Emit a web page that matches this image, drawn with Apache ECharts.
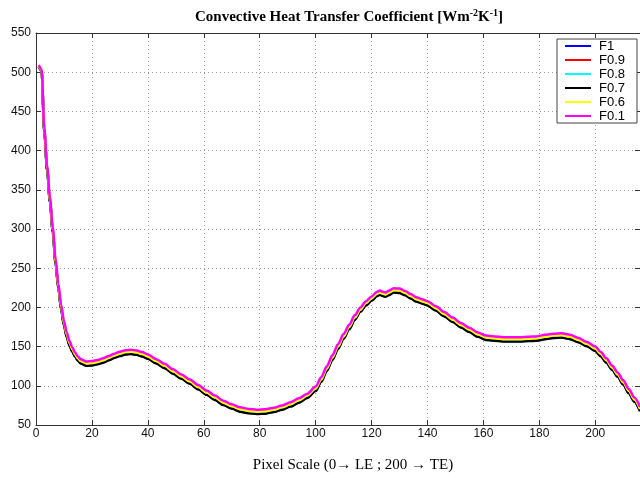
<!DOCTYPE html>
<html>
<head>
<meta charset="utf-8">
<script src="https://cdn.jsdelivr.net/npm/echarts@6/dist/echarts.min.js"></script>
<style>
  html, body { margin: 0; padding: 0; background: #fff; }
  #chart { width: 640px; height: 478px; }
</style>
</head>
<body>
<div id="chart"></div>
<script>
// Pixel positions along the chord (0 = leading edge, 200 = trailing edge)
const pixelPos = [1,2,3,4,5,6,7,8,9,10,11,12,13,14,15,16,
  18,20,22,24,26,28,30,32,34,36,38,40,
  43,46,49,52,55,58,61,64,67,70,73,76,79,82,85,88,91,94,97,100,
  102,104,106,108,110,112,114,116,118,120,122,
  123,124,125,126,
  128,130,132,134,136,138,140,
  143,146,149,152,155,158,161,164,167,170,173,176,179,182,185,188,191,194,197,200,
  202,204,206,208,210,212,214,216];

// Convective heat transfer coefficient [W m^-2 K^-1] for each case
const hF1 = [507,502,423,375,335,297,257,225,198,178,163,152,144,137.5,132.5,129,126,126.5,128,130,133,136,138.5,140.5,141,140,138,135,129,123,116,109.5,103,96,89,82.5,76,71.5,67.5,65.5,64.5,65,67,70,74,79,85,94,106,120,134,148,161,173,185,195,203,209,215,216.5,215,214,216,219.5,219,216,212,208,205.5,203,196.5,189,182,175,169,163,159,158,157,157,157,157.5,158,160,161.5,162,160,156,151,145,138,130,121,112,102,91,80,68];
const hF09 = [507.5,502.5,423.5,375.5,335.5,297.5,257.5,225.5,198.5,178.5,163.5,152.5,144.5,138,133,129.5,126.5,127,128.5,130.5,133.5,136.5,139,141,141.5,140.5,138.5,135.5,129.5,123.5,116.5,110,103.5,96.5,89.5,83,76.5,72,68,66,65,65.5,67.5,70.5,74.5,79.5,85.5,94.5,106.5,120.5,134.5,148.5,161.5,173.5,185.5,195.5,203.5,209.5,215.5,217,215.5,214.5,216.5,220,219.5,216.5,212.5,208.5,206,203.5,197,189.5,182.5,175.5,169.5,163.5,159.5,158.5,157.5,157.5,157.5,158,158.5,160.5,162,162.5,160.5,156.5,151.5,145.5,138.5,130.5,121.5,112.5,102.5,91.5,80.5,68.5];
const hF08 = [507,502,424,376,335,297,257,225,198,178,163,152,144,137.5,132.5,129.5,126,126.5,128.5,130.5,133,136,138.5,140.5,141,140,138,135,129,123,116.5,109.5,103,96,89,82.5,76,71.5,67.5,65.5,64.5,65,67,70,74,79,85,94,106,120,134,148,161,173,185,195,203,209,215,216.5,215,214,216,219.5,219,216,212,208,205.5,203,196.5,189,182,175,169,163,159,158,157,157,157,157.5,158,160,161.5,162,160,156,151,145,138,130,121,112,102,91,80,68];
const hF07 = [507,502,423,374,334,296,256,224,197,177,162,151,143.5,137,132,128.5,125.5,126,127.5,129.5,132.5,135.5,138,140,140.5,139.5,137.5,134.5,128.5,122.5,115.5,109,102.5,95.5,88.5,82,75.5,71,67,65,64,64.5,66.5,69.5,73.5,78.5,84.5,93.5,105,119,133,147,160,172,184,194.5,202.5,208.5,214.5,216,214.5,213.5,215.5,219,218.5,215.5,211.5,207.5,205,202.5,196,188.5,181.5,174.5,168.5,162.5,158.5,157.5,156.5,156.5,156.5,157,157.5,159.5,161,161.5,159.5,155.5,150.5,144.5,137.5,129.5,120.5,111.5,101.5,90.5,79.5,67.5];
const hF06 = [508,503,426,378,337,299,259,227,200.5,180.5,165.5,154.5,146.5,140,135,131.5,128.5,129,130.5,132.5,135.5,138.5,141,143,143.5,142.5,140.5,137.5,131.5,125.5,118.5,112,105.5,98.5,91.5,85,78.5,74,70,68,67,67.5,69.5,72.5,76.5,81.5,87.5,96.5,108,122,136,150,163,175,187,197,205.5,211.5,217.5,219,217.5,216.5,218.5,222,221.5,218.5,214.5,210.5,208,205.5,199,191.5,184.5,177.5,171.5,165.5,161.5,160.5,159.5,159.5,159.5,160,160.5,162.5,164,164.5,162.5,158.5,153.5,147.5,140.5,132.5,123.5,114.5,104.5,93.5,82.5,70.5];
const hF01 = [509,504,428,380,340,302,262,230,203,183,168,157,149,142.5,137.5,134,131,131.5,133,135,138,141,143.5,145.5,146,145,143,140,134,128,121,114.5,108,101,94,87.5,81,76.5,72.5,70.5,69.5,70,72,75,79,84,90,99,111,125,139,153,166,178,190,200,208,214,220,221.5,220,219,221,224.5,224,221,217,213,210.5,208,201.5,194,187,180,174,168,164,163,162,162,162,162.5,163,165,166.5,167,165,161,156,150,143,135,126,117,107,96,85,73];

const seriesNames = ['F1', 'F0.9', 'F0.8', 'F0.7', 'F0.6', 'F0.1'];
const seriesValues = [hF1, hF09, hF08, hF07, hF06, hF01];
const seriesColors = ['#0000ff', '#ff0000', '#00ffff', '#000000', '#ffff00', '#ff00ff'];

const xMin = 0, xMax = 216, xStep = 20;
const yMin = 50, yMax = 550, yStep = 50;

const sansFont = '"Liberation Sans", Arial, sans-serif';
const serifFont = '"Liberation Serif", "Times New Roman", serif';
const axisColor = '#333';

const chart = echarts.init(document.getElementById('chart'), null, { renderer: 'canvas' });

// Box frame: top and right axes carry only the line and inward ticks
const frameAxis = {
  axisLine: { show: true, onZero: false, lineStyle: { color: axisColor, width: 1 } },
  axisTick: { show: true, inside: true, length: 5, lineStyle: { color: axisColor } },
  axisLabel: { show: false },
  splitLine: { show: false }
};

chart.setOption({
  backgroundColor: '#fff',
  animation: false,
  title: {
    text: '{a|Convective Heat Transfer Coefficient [Wm}{s|-2}{a|K}{s|-1}{a|]}',
    left: 190,
    top: 3,
    textStyle: {
      rich: {
        a: { fontFamily: serifFont, fontWeight: 'bold', fontSize: 15, color: '#000', lineHeight: 18 },
        s: { fontFamily: serifFont, fontWeight: 'bold', fontSize: 10, color: '#000', verticalAlign: 'top', lineHeight: 18 }
      }
    }
  },
  legend: {
    orient: 'vertical',
    left: 557,
    top: 39,
    data: seriesNames,
    icon: 'rect',
    itemWidth: 26,
    itemHeight: 2,
    itemGap: 0,
    padding: [0, 12, 0, 8],
    backgroundColor: '#fff',
    borderColor: '#444',
    borderWidth: 1,
    borderRadius: 0,
    textStyle: { fontFamily: sansFont, fontSize: 13, color: '#000', lineHeight: 14, padding: [0, 0, 0, 3] }
  },
  grid: { left: 36, right: -1, top: 33, bottom: 49, containLabel: false },
  xAxis: [
    {
      type: 'value', position: 'bottom',
      min: xMin, max: xMax, interval: xStep,
      name: 'Pixel Scale (0\u2192 LE ; 200 \u2192 TE)',
      nameLocation: 'middle',
      nameGap: 33,
      nameTextStyle: { fontFamily: serifFont, fontSize: 15, color: '#000', padding: [0, 0, 0, 30] },
      axisLine: { show: true, onZero: false, lineStyle: { color: axisColor, width: 1 } },
      axisTick: { show: true, inside: true, length: 5, lineStyle: { color: axisColor } },
      axisLabel: { fontFamily: sansFont, fontSize: 12, color: '#111', margin: 3, showMaxLabel: false },
      splitLine: { show: true, lineStyle: { color: '#9a9a9a', width: 1, type: [1, 3] } }
    },
    Object.assign({}, frameAxis, { type: 'value', position: 'top', min: xMin, max: xMax, interval: xStep })
  ],
  yAxis: [
    {
      type: 'value', position: 'left',
      min: yMin, max: yMax, interval: yStep,
      axisLine: { show: true, onZero: false, lineStyle: { color: axisColor, width: 1 } },
      axisTick: { show: true, inside: true, length: 5, lineStyle: { color: axisColor } },
      axisLabel: { fontFamily: sansFont, fontSize: 12, color: '#111', margin: 5 },
      splitLine: { show: true, lineStyle: { color: '#9a9a9a', width: 1, type: [1, 3] } }
    },
    Object.assign({}, frameAxis, { type: 'value', position: 'right', min: yMin, max: yMax, interval: yStep })
  ],
  series: seriesNames.map((name, i) => ({
    name: name,
    type: 'line',
    xAxisIndex: 0,
    yAxisIndex: 0,
    showSymbol: false,
    smooth: 0.3,
    smoothMonotone: 'x',
    color: seriesColors[i],
    lineStyle: { color: seriesColors[i], width: 2.5 },
    data: pixelPos.map((x, k) => [x, seriesValues[i][k]])
  }))
});
</script>
</body>
</html>
